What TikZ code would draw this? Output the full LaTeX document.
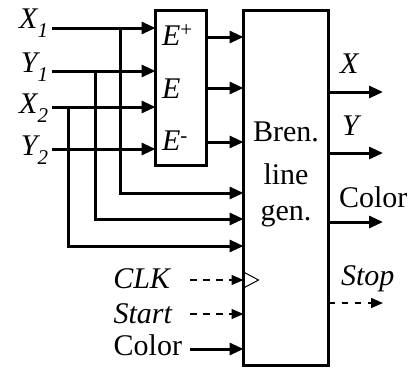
\documentclass[tikz,border=0pt]{standalone}
\usepackage{fontspec}
\setmainfont{Liberation Serif}
\usetikzlibrary{arrows.meta}
\newcommand{\mysub}[1]{\raisebox{-9pt}{\fontsize{21}{21}\selectfont #1}}
\newcommand{\mysup}[2]{\raisebox{#1}{\fontsize{21}{21}\selectfont\upshape #2}}
\begin{document}
\begin{tikzpicture}[x=1pt,y=-1pt,
  every node/.style={inner sep=0pt, outer sep=0pt},
  txt/.style={font=\fontsize{30}{36}\selectfont},
  itx/.style={font=\fontsize{30}{36}\selectfont\itshape},
  blockbox/.style={draw, line width=3pt},
  sig/.style={line width=3pt, -{Triangle[length=14pt,width=12pt]}},
  dsig/.style={line width=1.6pt, dash pattern=on 6.5pt off 6.5pt, -{Triangle[length=12pt,width=10pt]}},
]
\useasboundingbox (0,0) rectangle (412,370);
% blocks
\node[blockbox, minimum width=50.5pt, minimum height=154.5pt] (ebox) at (180.75,87.75) {};
\node[blockbox, minimum width=85pt, minimum height=355pt] (mbox) at (286,188) {};
% input start points
\coordinate (x1) at (52,28);
\coordinate (y1) at (52,71);
\coordinate (x2) at (52,107);
\coordinate (y2) at (52,149);
\draw[sig] (x1) -- (x1 -| ebox.west);
\draw[sig] (y1) -- (y1 -| ebox.west);
\draw[sig] (x2) -- (x2 -| ebox.west);
\draw[sig] (y2) -- (y2 -| ebox.west);
% taps
\coordinate (t1) at (120,28);
\coordinate (t2) at (95,71);
\coordinate (t3) at (68,107);
\coordinate (r1) at (0,193);
\coordinate (r2) at (0,219);
\coordinate (r3) at (0,246);
\draw[sig] (t1) |- (mbox.west |- r1);
\draw[sig] (t2) |- (mbox.west |- r2);
\draw[sig] (t3) |- (mbox.west |- r3);
% E outputs
\coordinate (o1) at (0,37);
\coordinate (o2) at (0,88);
\coordinate (o3) at (0,142);
\draw[sig] (ebox.east |- o1) -- (mbox.west |- o1);
\draw[sig] (ebox.east |- o2) -- (mbox.west |- o2);
\draw[sig] (ebox.east |- o3) -- (mbox.west |- o3);
% bottom inputs
\coordinate (clk) at (190,280);
\coordinate (st) at (190,314);
\coordinate (col) at (190,349);
\draw[dsig] (clk) -- (clk -| mbox.west);
\draw[dsig] (st) -- (st -| mbox.west);
\draw[sig] (col) -- (col -| mbox.west);
\coordinate (ck) at (clk -| mbox.west);
\draw[line width=1pt, line join=miter] ([yshift=8pt]ck) -- ([xshift=15pt]ck) -- ([yshift=-8pt]ck);
% outputs
\coordinate (ox) at (383,92);
\coordinate (oy) at (383,153);
\coordinate (oc) at (383,222);
\coordinate (os) at (383,303);
\draw[sig] (mbox.east |- ox) -- (ox);
\draw[sig] (mbox.east |- oy) -- (oy);
\draw[sig] (mbox.east |- oc) -- (oc);
\draw[dsig] (mbox.east |- os) -- (os);
% labels left
\node[itx, anchor=base east] (lx1) at (48,28) {X\mysub{1}};
\node[itx, anchor=base east] (ly1) at (48,72) {Y\mysub{1}};
\node[itx, anchor=base east] (lx2) at (48,113) {X\mysub{2}};
\node[itx, anchor=base east] (ly2) at (48,155) {Y\mysub{2}};
\node[itx, anchor=base east] (lclk) at (170,288) {CLK};
\node[itx, anchor=base east] (lst) at (172,323) {Start};
\node[txt, anchor=base east] (lcol) at (182,355) {Color};
% E labels
\node[itx, anchor=base west] (lep) at (162,45) {E\mysup{9pt}{+}};
\node[itx, anchor=base west] (le) at (162,98) {E};
\node[itx, anchor=base west] (lem) at (162,150) {E\mysup{8pt}{-}};
% main block text
\node[txt, anchor=base] (b1) at (286,141) {Bren.};
\node[txt, anchor=base] (b2) at (286,184) {line};
\node[txt, anchor=base] (b3) at (286,220) {gen.};
% right labels
\node[itx, anchor=base west] (rx) at (340,73) {X};
\node[itx, anchor=base west] (ry) at (342,135) {Y};
\node[txt, anchor=base west] (rc) at (339,207) {Color};
\node[itx, anchor=base west] (rs) at (341,285) {Stop};
\end{tikzpicture}
\end{document}
